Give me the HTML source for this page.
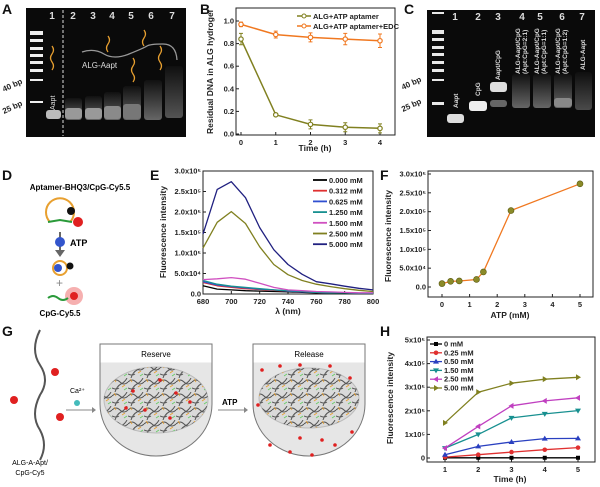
<!DOCTYPE html>
<html><head><meta charset="utf-8"><style>
body{margin:0;background:#fff}
svg{display:block;font-family:"Liberation Sans",Arial,sans-serif}
.ax{stroke:#222;stroke-width:1;fill:none}
.tl{font-size:7.5px;font-weight:bold;fill:#222}
.lab{font-size:8.5px;font-weight:bold;fill:#222}
.pl{font-size:14px;font-weight:bold;fill:#111}
</style></head><body>
<svg id="fig" width="600" height="487" viewBox="0 0 600 487">
<defs>
<pattern id="mesh" width="16" height="14" patternUnits="userSpaceOnUse">
<path d="M0 4 q4 -4 8 0 t8 0 M3 14 q2 -6 6 -8 t6 -6 M0 10 q4 2 7 0" stroke="#555" stroke-width="1" fill="none"/>
<path d="M10 9 l3 -2 M2 1 l2 3" stroke="#e8a030" stroke-width="0.8"/>
<path d="M12 12 l3 -2" stroke="#6c6" stroke-width="0.8"/>
</pattern>
<linearGradient id="smear" x1="0" y1="1" x2="0" y2="0"><stop offset="0" stop-color="#666"/><stop offset="1" stop-color="#111"/></linearGradient>
</defs>
<text class="pl" x="2" y="14">A</text>
<text class="pl" x="200" y="14">B</text>
<text class="pl" x="404" y="14">C</text>
<text class="pl" x="2" y="180">D</text>
<text class="pl" x="150" y="180">E</text>
<text class="pl" x="380" y="180">F</text>
<text class="pl" x="2" y="336">G</text>
<text class="pl" x="380" y="336">H</text>

<!-- Gel A -->
<g>
<rect x="26" y="8" width="160" height="129" fill="#0a0a0a"/>
<g fill="#ddd" font-size="10" font-weight="bold" text-anchor="middle">
<text x="52" y="19">1</text><text x="73" y="19">2</text><text x="93" y="19">3</text><text x="112" y="19">4</text><text x="131" y="19">5</text><text x="151" y="19">6</text><text x="172" y="19">7</text></g>
<line x1="63" y1="10" x2="63" y2="136" stroke="#ddd" stroke-dasharray="3,2"/>
<g fill="#eee">
<rect x="30" y="31" width="13" height="4"/><rect x="30" y="39" width="13" height="3"/><rect x="30" y="47" width="13" height="3"/><rect x="30" y="54" width="13" height="3"/><rect x="30" y="61" width="13" height="3"/><rect x="30" y="69" width="13" height="3"/><rect x="30" y="79" width="13" height="2"/><rect x="30" y="101" width="13" height="2"/>
</g>
<rect x="46" y="110" width="15" height="9" rx="3" fill="#bbb"/>
<rect x="65" y="98" width="17" height="22" rx="3" fill="url(#smear)"/><rect x="65" y="108" width="17" height="11" rx="3" fill="#999"/>
<rect x="85" y="96" width="17" height="24" rx="3" fill="url(#smear)"/><rect x="85" y="108" width="17" height="11" rx="3" fill="#999"/>
<rect x="104" y="92" width="17" height="28" rx="3" fill="url(#smear)"/><rect x="104" y="106" width="17" height="13" rx="3" fill="#8a8a8a"/>
<rect x="123" y="86" width="18" height="34" rx="3" fill="url(#smear)"/><rect x="123" y="104" width="18" height="15" rx="3" fill="#777"/>
<rect x="144" y="80" width="18" height="40" rx="3" fill="url(#smear)"/>
<rect x="165" y="66" width="18" height="52" rx="3" fill="url(#smear)" opacity="0.8"/>
<g stroke="#e8a030" fill="none" stroke-width="1.3">
<path d="M52 46 q3 4 0 8 q-3 4 0 8 q3 4 0 8"/><path d="M108 36 q3 4 0 8 q-3 4 0 8"/><path d="M133 58 q3 4 0 8 q-3 4 0 8 q3 4 0 8"/><path d="M144 30 q3 4 0 8 q-3 4 0 8"/><path d="M160 46 q3 4 0 8 q-3 4 0 8 q3 4 0 8"/></g>
<path d="M82 52 q12 -4 22 2 t25 0 t18 -8 t16 -2 t14 16" stroke="#999" fill="none" stroke-width="1.3"/>
<text x="82" y="68" fill="#ddd" font-size="8">ALG-Aapt</text>
<text fill="#ddd" font-size="7" transform="translate(55,110) rotate(-90)">Aapt</text>
</g>
<text font-size="8" font-weight="bold" fill="#222" transform="translate(4,92) rotate(-25)">40 bp</text>
<text font-size="8" font-weight="bold" fill="#222" transform="translate(4,114) rotate(-25)">25 bp</text>

<!-- Gel C -->
<g>
<rect x="427" y="10" width="168" height="127" fill="#0a0a0a"/>
<g fill="#ddd" font-size="10" font-weight="bold" text-anchor="middle">
<text x="455" y="20">1</text><text x="478" y="20">2</text><text x="498" y="20">3</text><text x="522" y="20">4</text><text x="540" y="20">5</text><text x="562" y="20">6</text><text x="582" y="20">7</text></g>
<g fill="#e8e8e8">
<rect x="432" y="12" width="12" height="2"/><rect x="432" y="30" width="12" height="4"/><rect x="432" y="38" width="12" height="3"/><rect x="432" y="46" width="12" height="3"/><rect x="432" y="53" width="12" height="3"/><rect x="432" y="61" width="12" height="3"/><rect x="432" y="69" width="12" height="3"/><rect x="432" y="79" width="12" height="2"/><rect x="432" y="102" width="12" height="3"/>
</g>
<rect x="447" y="114" width="17" height="9" rx="3" fill="#ddd"/>
<rect x="469" y="101" width="18" height="10" rx="3" fill="#eee"/>
<rect x="490" y="82" width="17" height="10" rx="3" fill="#ddd"/><rect x="490" y="100" width="17" height="7" rx="3" fill="#666"/>
<rect x="512" y="74" width="18" height="34" rx="3" fill="url(#smear)"/>
<rect x="533" y="74" width="18" height="34" rx="3" fill="url(#smear)"/>
<rect x="554" y="74" width="18" height="34" rx="3" fill="url(#smear)"/><rect x="554" y="98" width="18" height="9" rx="3" fill="#888"/>
<rect x="575" y="72" width="17" height="38" rx="3" fill="url(#smear)" opacity="0.7"/>
<g fill="#ddd" font-size="6.5" font-weight="bold">
<text transform="translate(458,108) rotate(-90)">Aapt</text><text transform="translate(480,96) rotate(-90)">CpG</text><text transform="translate(500,80) rotate(-90)">Aapt/CpG</text>
<text transform="translate(520,74) rotate(-90)">ALG-Aapt/CpG</text><text transform="translate(527,74) rotate(-90)">(Apt:CpG=2:1)</text>
<text transform="translate(539,74) rotate(-90)">ALG-Aapt/CpG</text><text transform="translate(546,74) rotate(-90)">(Apt:CpG=1:1)</text>
<text transform="translate(560,74) rotate(-90)">ALG-Aapt/CpG</text><text transform="translate(567,74) rotate(-90)">(Apt:CpG=1:2)</text>
<text transform="translate(585,70) rotate(-90)">ALG-Aapt</text></g>
</g>
<text font-size="8" font-weight="bold" fill="#222" transform="translate(403,90) rotate(-25)">40 bp</text>
<text font-size="8" font-weight="bold" fill="#222" transform="translate(403,112) rotate(-25)">25 bp</text>

<!-- Panel D schematic -->
<g>
<text x="80" y="190" text-anchor="middle" font-size="8" font-weight="bold">Aptamer-BHQ3/CpG-Cy5.5</text>
<path d="M50 222 a14 14 0 1 1 20 0" stroke="#e8a030" stroke-width="2" fill="none"/>
<path d="M48 222 l12 -2 l12 2" stroke="#2a9a3a" stroke-width="2" fill="none"/>
<circle cx="71" cy="211" r="4" fill="#111"/><circle cx="78" cy="222" r="5" fill="#e02020"/>
<line x1="60" y1="232" x2="60" y2="254" stroke="#666" stroke-width="2"/><path d="M55 250 l5 7 l5 -7z" fill="#666"/>
<circle cx="60" cy="242" r="5" fill="#3355cc"/><text x="70" y="246" font-size="9" font-weight="bold">ATP</text>
<circle cx="60" cy="268" r="7" fill="none" stroke="#e8a030" stroke-width="2"/><circle cx="58" cy="268" r="4" fill="#3355cc"/><circle cx="70" cy="266" r="3.5" fill="#111"/>
<text x="56" y="287" font-size="12" fill="#888">+</text>
<circle cx="74" cy="296" r="9" fill="#f6b0b0"/><path d="M48 298 q5 -4 10 0 t10 0" stroke="#2a9a3a" stroke-width="2" fill="none"/><circle cx="74" cy="296" r="4" fill="#e02020"/>
<text x="60" y="316" text-anchor="middle" font-size="8" font-weight="bold">CpG-Cy5.5</text>
</g>

<!-- Panel G schematic -->
<g>
<path d="M40 330 q-10 20 0 35 q10 15 0 30 q-10 20 0 35 q8 15 0 30" stroke="#555" stroke-width="2" fill="none"/>
<circle cx="55" cy="372" r="4" fill="#e02020"/><circle cx="14" cy="400" r="4" fill="#e02020"/><circle cx="60" cy="417" r="4" fill="#e02020"/>
<text x="30" y="465" text-anchor="middle" font-size="7">ALG-A-Apt/</text><text x="30" y="475" text-anchor="middle" font-size="7">CpG-Cy5</text>
<text x="70" y="393" font-size="7">Ca²⁺</text><circle cx="77" cy="403" r="3" fill="#4bb"/>
<line x1="66" y1="410" x2="92" y2="410" stroke="#888"/><path d="M92 407 l4 3 l-4 3z" fill="#888"/>
<path d="M100 344 h112 v60 a56 52 0 0 1 -112 0z" fill="#e6e6e6" stroke="#777"/><rect x="100.5" y="344.5" width="111" height="18" fill="#fff"/>
<text x="156" y="357" text-anchor="middle" font-size="8">Reserve</text>
<ellipse cx="156" cy="400" rx="52" ry="33" fill="#dadada" stroke="#bbb"/>
<ellipse cx="156" cy="400" rx="52" ry="33" fill="url(#mesh)"/>
<g fill="#e02020"><circle cx="133" cy="391" r="1.8"/><circle cx="160" cy="380" r="1.8"/><circle cx="176" cy="393" r="1.8"/><circle cx="145" cy="410" r="1.8"/><circle cx="170" cy="418" r="1.8"/><circle cx="190" cy="402" r="1.8"/><circle cx="126" cy="408" r="1.8"/></g>
<path d="M253 344 h112 v60 a56 52 0 0 1 -112 0z" fill="#e6e6e6" stroke="#777"/><rect x="253.5" y="344.5" width="111" height="18" fill="#fff"/>
<text x="309" y="357" text-anchor="middle" font-size="8">Release</text>
<ellipse cx="309" cy="398" rx="50" ry="30" fill="#dadada" stroke="#bbb"/>
<ellipse cx="309" cy="398" rx="50" ry="30" fill="url(#mesh)"/>
<g fill="#e02020"><circle cx="262" cy="370" r="1.8"/><circle cx="280" cy="366" r="1.8"/><circle cx="300" cy="365" r="1.8"/><circle cx="330" cy="366" r="1.8"/><circle cx="350" cy="378" r="1.8"/><circle cx="258" cy="405" r="1.8"/><circle cx="270" cy="445" r="1.8"/><circle cx="290" cy="452" r="1.8"/><circle cx="312" cy="455" r="1.8"/><circle cx="335" cy="445" r="1.8"/><circle cx="352" cy="432" r="1.8"/><circle cx="300" cy="438" r="1.8"/><circle cx="322" cy="440" r="1.8"/></g>
<text x="222" y="405" font-size="8" font-weight="bold">ATP</text>
<line x1="218" y1="410" x2="244" y2="410" stroke="#888"/><path d="M244 407 l4 3 l-4 3z" fill="#888"/>
</g>

<g id="gB"></g>
<g id="gE"></g>
<g id="gF"></g>
<g id="gH"></g>
</svg>
<script>
// ---- Panel B data
const bTimes = [0,1,2,3,4];
const bApt = [0.84,0.17,0.085,0.06,0.05];
const bAptErr = [0.05,0.01,0.04,0.04,0.04];
const bEdc = [0.97,0.88,0.855,0.84,0.825];
const bEdcErr = [0.02,0.03,0.04,0.05,0.06];
const bYTicks = ["0.0","0.2","0.4","0.6","0.8","1.0"];
// ---- Panel E data
const eWave = [680,690,700,710,720,730,740,750,760,770,780,790,800];
const eLabels = ["0.000 mM","0.312 mM","0.625 mM","1.250 mM","1.500 mM","2.500 mM","5.000 mM"];
const eS0 = [0.20,0.12,0.10,0.08,0.07,0.06,0.05,0.04,0.03,0.03,0.02,0.02,0.02];
const eS1 = [0.28,0.20,0.16,0.13,0.11,0.09,0.07,0.05,0.04,0.03,0.03,0.02,0.02];
const eS2 = [0.30,0.22,0.18,0.15,0.12,0.10,0.07,0.05,0.04,0.03,0.03,0.02,0.02];
const eS3 = [0.33,0.24,0.19,0.16,0.13,0.10,0.08,0.06,0.04,0.03,0.03,0.02,0.02];
const eS4 = [0.35,0.37,0.40,0.36,0.26,0.16,0.10,0.08,0.06,0.05,0.04,0.03,0.03];
const eS5 = [1.12,1.75,2.01,1.72,1.15,0.72,0.47,0.33,0.24,0.18,0.13,0.09,0.06];
const eS6 = [1.46,2.55,2.74,2.35,1.62,1.08,0.72,0.48,0.30,0.25,0.19,0.14,0.10];
const eYTicks = ["0.0","5.0x10⁴","1.0x10⁵","1.5x10⁵","2.0x10⁵","2.5x10⁵","3.0x10⁵"];
// ---- Panel F data
const fAtp = [0,0.312,0.625,1.25,1.5,2.5,5];
const fInt = [0.09,0.15,0.16,0.20,0.40,2.03,2.74];
const fYTicks = ["0.0","5.0x10⁴","1.0x10⁵","1.5x10⁵","2.0x10⁵","2.5x10⁵","3.0x10⁵"];
// ---- Panel H data
const hTimes = [1,2,3,4,5];
const hLabels = ["0 mM","0.25 mM","0.50 mM","1.50 mM","2.50 mM","5.00 mM"];
const hS0 = [0.01,0.01,0.01,0.01,0.01];
const hS1 = [0.04,0.14,0.25,0.35,0.44];
const hS2 = [0.14,0.49,0.68,0.82,0.83];
const hS3 = [0.42,1.00,1.70,1.87,2.01];
const hS4 = [0.42,1.34,2.21,2.42,2.55];
const hS5 = [1.49,2.79,3.17,3.34,3.42];
const hYTicks = ["0","1x10⁵","2x10⁵","3x10⁵","4x10⁵","5x10⁵"];

const NS="http://www.w3.org/2000/svg";
function mk(p,tag,at){const e=document.createElementNS(NS,tag);for(const k in at)e.setAttribute(k,at[k]);p.appendChild(e);return e;}
function txt(p,x,y,s,cls,anchor){const t=mk(p,"text",{x:x,y:y,class:cls,"text-anchor":anchor||"middle"});t.textContent=s;return t;}
function lin(d0,d1,r0,r1){return v=>r0+(v-d0)/(d1-d0)*(r1-r0);}
function pathOf(xs,ys,X,Y){return xs.map((v,i)=>(i?"L":"M")+X(v).toFixed(1)+" "+Y(ys[i]).toFixed(1)).join(" ");}
function frame(g,x0,y0,x1,y1){const r=mk(g,"rect",{x:x0,y:y0,width:x1-x0,height:y1-y0,class:"ax"});}
function yAxis(g,ticks,Y,x0,step){ticks.forEach((s,i)=>{const y=Y(i*step);mk(g,"line",{x1:x0,x2:x0+3,y1:y,y2:y,class:"ax"});const t=txt(g,x0-2,y+2.5,s,"tl","end");});}
function xAxis(g,vals,X,y0){vals.forEach(v=>{const x=X(v);mk(g,"line",{x1:x,x2:x,y1:y0,y2:y0-3,class:"ax"});const t=txt(g,x,y0+10,String(v),"tl");});}
function ylabel(g,x,y,s){const t=mk(g,"text",{x:0,y:0,class:"lab","text-anchor":"middle",transform:`translate(${x},${y}) rotate(-90)`});t.textContent=s;}
function xlabel(g,x,y,s){const t=txt(g,x,y,s,"lab");}

// ---- B
(function(){const g=document.getElementById("gB");
const X=lin(0,4,241,380),Y=lin(0,1,134,21);
frame(g,236,8,395,135);yAxis(g,bYTicks,Y,236,0.2);xAxis(g,bTimes,X,135);
ylabel(g,213,72,"Residual DNA in ALG hydrogel");xlabel(g,315,151,"Time (h)");
[[bEdc,bEdcErr,"#f07820","ALG+ATP aptamer+EDC"],[bApt,bAptErr,"#808020","ALG+ATP aptamer"]].forEach((s,k)=>{
 const p=mk(g,"path",{d:pathOf(bTimes,s[0],X,Y),stroke:s[2],fill:"none","stroke-width":1.5});
 
 s[0].forEach((v,i)=>{const x=X(bTimes[i]);
  const e=mk(g,"path",{d:`M${x} ${Y(v-s[1][i])}V${Y(v+s[1][i])}M${x-2} ${Y(v-s[1][i])}h4M${x-2} ${Y(v+s[1][i])}h4`,stroke:s[2],fill:"none"});
  
  const c=mk(g,"circle",{cx:x,cy:Y(v),r:2.2,fill:"#fff",stroke:s[2],"stroke-width":1.2});
  });
});
[["#808020","ALG+ATP aptamer"],["#f07820","ALG+ATP aptamer+EDC"]].forEach((s,i)=>{const y=16+i*10;
 const le=mk(g,"g",{});
 mk(le,"line",{x1:297,x2:311,y1:y,y2:y,stroke:s[0],"stroke-width":1.5});mk(le,"circle",{cx:304,cy:y,r:2,fill:"#fff",stroke:s[0]});
 txt(le,313,y+3,s[1],"tl","start");});
})();

// ---- E
(function(){const g=document.getElementById("gE");
const X=lin(680,800,203,373),Y=lin(0,3,294,171);
frame(g,203,171,373,294);yAxis(g,eYTicks,Y,203,0.5);xAxis(g,[680,700,720,740,760,780,800],X,294);
ylabel(g,166,232,"Fluorescence intensity");xlabel(g,288,314,"λ (nm)");
const series=[eS0,eS1,eS2,eS3,eS4,eS5,eS6];const cols=["#000","#e03030","#3050d0","#189090","#d050c0","#808020","#202080"];
series.forEach((s,k)=>{const p=mk(g,"path",{d:pathOf(eWave,s,X,Y),stroke:cols[k],fill:"none","stroke-width":1.3,"stroke-linejoin":"round"});
 
 const y=180+k*10.7;const le=mk(g,"g",{});
 mk(le,"line",{x1:313,x2:327,y1:y,y2:y,stroke:cols[k],"stroke-width":1.8});txt(le,329,y+3,eLabels[k],"tl","start");});
})();

// ---- F
(function(){const g=document.getElementById("gF");
const X=lin(0,5,442,580),Y=lin(0,3,287,174);
frame(g,428,171,593,297);yAxis(g,fYTicks,Y,428,0.5);xAxis(g,[0,1,2,3,4,5],X,297);
ylabel(g,391,236,"Fluorescence intensity");xlabel(g,510,318,"ATP (mM)");
const p=mk(g,"path",{d:pathOf(fAtp,fInt,X,Y),stroke:"#f07820",fill:"none","stroke-width":1.3});

fAtp.forEach((v,i)=>{const c=mk(g,"circle",{cx:X(v),cy:Y(fInt[i]),r:3,fill:"#8a8a28",stroke:"#5a5a10","stroke-width":0.6});
 });
})();

// ---- H
(function(){const g=document.getElementById("gH");
const X=lin(1,5,445,578),Y=lin(0,5,458,340);
frame(g,427,337,595,462);yAxis(g,hYTicks,Y,427,1);xAxis(g,hTimes,X,462);
ylabel(g,393,398,"Fluorescence intensity");xlabel(g,510,482,"Time (h)");
const series=[hS0,hS1,hS2,hS3,hS4,hS5];const cols=["#000","#e03030","#2a40c0","#189090","#c040c0","#808020"];
const mark=["s","c","tu","td","tl","tr"];
function marker(p,x,y,m,c){let e;
 if(m==="s")e=mk(p,"rect",{x:x-2,y:y-2,width:4,height:4,fill:c});
 else if(m==="c")e=mk(p,"circle",{cx:x,cy:y,r:2.3,fill:c});
 else{const d={tu:`M${x} ${y-3}L${x+3} ${y+2}L${x-3} ${y+2}Z`,td:`M${x} ${y+3}L${x+3} ${y-2}L${x-3} ${y-2}Z`,tl:`M${x-3} ${y}L${x+2} ${y-3}L${x+2} ${y+3}Z`,tr:`M${x+3} ${y}L${x-2} ${y-3}L${x-2} ${y+3}Z`}[m];e=mk(p,"path",{d:d,fill:c});}
 return e;}
series.forEach((s,k)=>{const p=mk(g,"path",{d:pathOf(hTimes,s,X,Y),stroke:cols[k],fill:"none","stroke-width":1.3});
 
 s.forEach((v,i)=>{const m=marker(g,X(hTimes[i]),Y(v),mark[k],cols[k]);});
 const y=344+k*8.8;const le=mk(g,"g",{});
 mk(le,"line",{x1:430,x2:442,y1:y,y2:y,stroke:cols[k],"stroke-width":1.3});marker(le,436,y,mark[k],cols[k]);txt(le,444,y+2.5,hLabels[k],"tl","start");});
})();
</script>
</body></html>
